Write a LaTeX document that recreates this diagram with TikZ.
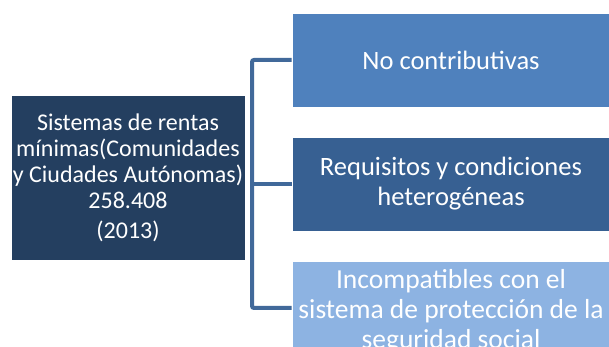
\documentclass[tikz,border=0pt]{standalone}
\usepackage{fontspec}
\setmainfont{Carlito}
\definecolor{navy}{HTML}{243F60}
\definecolor{blueA}{HTML}{4F81BD}
\definecolor{blueB}{HTML}{376092}
\definecolor{blueC}{HTML}{8DB3E2}
\definecolor{brk}{HTML}{41699A}
\tikzset{
  box/.style={fill=#1, draw=white, line width=0.8pt, text=white, align=center, inner sep=0pt},
  brack/.style={draw=brk, line width=4pt, rounded corners=2pt},
}
\begin{document}
\begin{tikzpicture}[x=1pt,y=1pt]
\useasboundingbox (0,0) rectangle (609,347);
\clip (0,0) rectangle (609,347);
\node[box=navy, minimum width=234, minimum height=165, font=\fontsize{24}{26}\selectfont] (src) at (128,169.5)
  {Sistemas de rentas\\mínimas(Comunidades\\y Ciudades Autónomas)\\258.408\\[4pt](2013)};
\node[box=blueA, minimum width=318, minimum height=94, font=\fontsize{26.5}{30}\selectfont] (a) at (451,287)
  {No contributivas};
\node[box=blueB, minimum width=318, minimum height=94, font=\fontsize{26.5}{30}\selectfont] (b) at (451,163)
  {Requisitos y condiciones\\heterogéneas};
\node[box=blueC, minimum width=318, minimum height=100, font=\fontsize{27.5}{30}\selectfont] (c) at (451,36)
  {Incompatibles con el\\sistema de protección de la\\seguridad social};
\coordinate (v) at (252,0);
\draw[brack] (a.west |- 0,287) -- (v |- 0,287) -- (v |- 0,39) -- (c.west |- 0,39);
\draw[brack] (v |- b.west) -- (b.west);
\end{tikzpicture}
\end{document}
